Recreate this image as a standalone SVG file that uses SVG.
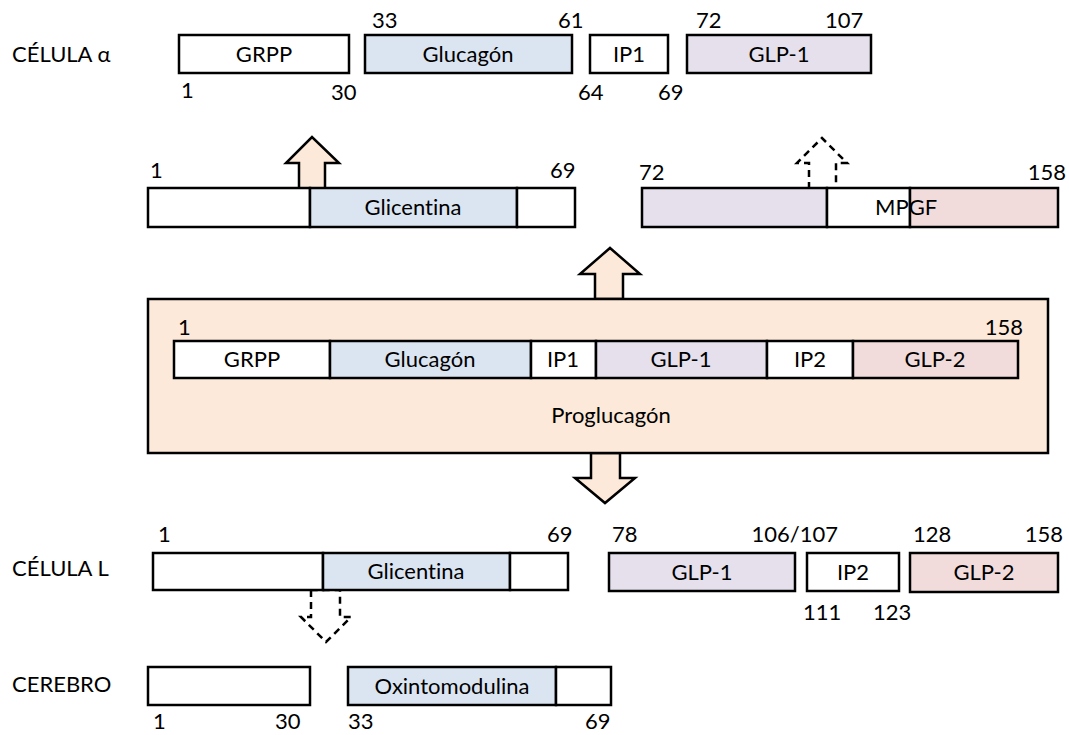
<svg xmlns="http://www.w3.org/2000/svg" width="1069" height="735" viewBox="0 0 1069 735">
<style>
text{font-family:Lato,"Open Sans","Noto Sans","DejaVu Sans",sans-serif;font-size:22px;fill:#000;font-variant-ligatures:none;font-feature-settings:"liga" 0}
.c{text-anchor:middle}
.e{text-anchor:end}
rect.s,polygon{stroke:#000;stroke-width:2.5}
.w{fill:#fff}
.b{fill:#DBE5F1}
.v{fill:#E5E0EC}
.p{fill:#F2DCDB}
.o{fill:#FDE9D9}
.d{fill:#fff;stroke-dasharray:7 5}
</style>
<rect width="1069" height="735" fill="#fff"/>

<g id="row-alpha">
<text x="12" y="62">CÉLULA α</text>
<g id="a-grpp"><rect class="s w" x="179" y="35" width="170" height="38"/><text class="c" x="264" y="62">GRPP</text></g>
<g id="a-glucagon"><rect class="s b" x="365" y="35" width="207" height="38"/><text class="c" x="468" y="62">Glucagón</text></g>
<g id="a-ip1"><rect class="s w" x="590" y="35" width="78" height="38"/><text class="c" x="629" y="62">IP1</text></g>
<g id="a-glp1"><rect class="s v" x="687" y="35" width="184" height="38"/><text class="c" x="779" y="62">GLP-1</text></g>
<text x="372" y="28">33</text><text x="558" y="28">61</text><text x="696" y="28">72</text><text x="825" y="28">107</text>
<text x="181" y="98">1</text><text x="331" y="100">30</text><text x="578" y="100">64</text><text x="658" y="100">69</text>
</g>

<g id="connectors">
<polygon class="o" points="299,189 299,163 286,163 312,137 339,163 325,163 325,189"/>
<polygon class="d" points="809,189 809,163 797,163 822,138 847,163 836,163 836,189"/>
<polygon class="o" points="595,299 595,274 580,274 610,248 640,274 623,274 623,299"/>
<polygon class="o" points="591,453 591,478 575,478 605,503 635,478 620,478 620,453"/>
<polygon class="d" points="311,590 311,617 301,617 326,642 351,617 340,617 340,590"/>
</g>

<g id="row-glicentina-alpha">
<rect class="s w" x="148" y="188" width="162" height="39"/>
<rect class="s b" x="310" y="188" width="207" height="39"/>
<rect class="s w" x="517" y="188" width="58" height="39"/>
<text class="c" x="413" y="215">Glicentina</text>
<text x="150" y="178">1</text><text x="550" y="178">69</text>
</g>

<g id="row-mpgf">
<rect class="s v" x="642" y="188" width="185" height="39"/>
<rect class="s w" x="827" y="188" width="83" height="39"/>
<rect class="s p" x="910" y="188" width="148" height="39"/>
<text x="875" y="215">MPGF</text>
<text x="639" y="180">72</text><text class="e" x="1066" y="180">158</text>
</g>

<g id="proglucagon">
<rect class="s o" x="148" y="299" width="900" height="154"/>
<rect class="s w" x="174" y="341" width="156" height="37"/>
<rect class="s b" x="330" y="341" width="201" height="37"/>
<rect class="s w" x="531" y="341" width="65" height="37"/>
<rect class="s v" x="596" y="341" width="171" height="37"/>
<rect class="s w" x="767" y="341" width="86" height="37"/>
<rect class="s p" x="853" y="341" width="165" height="37"/>
<text class="c" x="252" y="367">GRPP</text>
<text class="c" x="430" y="367">Glucagón</text>
<text class="c" x="563" y="367">IP1</text>
<text class="c" x="681" y="367">GLP-1</text>
<text class="c" x="810" y="367">IP2</text>
<text class="c" x="935" y="367">GLP-2</text>
<text x="178" y="335">1</text><text class="e" x="1023" y="335">158</text>
<text class="c" x="611" y="423">Proglucagón</text>
</g>

<g id="row-L">
<text x="12" y="576">CÉLULA L</text>
<rect class="s w" x="153" y="553" width="170" height="37"/>
<rect class="s b" x="323" y="553" width="187" height="37"/>
<rect class="s w" x="510" y="553" width="58" height="37"/>
<text class="c" x="416" y="579">Glicentina</text>
<text x="158" y="542">1</text><text x="547" y="542">69</text>
<g id="l-glp1"><rect class="s v" x="609" y="553" width="186" height="38"/><text class="c" x="702" y="580">GLP-1</text></g>
<g id="l-ip2"><rect class="s w" x="807" y="553" width="92" height="38"/><text class="c" x="853" y="580">IP2</text></g>
<g id="l-glp2"><rect class="s p" x="910" y="553" width="148" height="39"/><text class="c" x="984" y="580">GLP-2</text></g>
<text x="612" y="542">78</text><text class="e" x="838" y="542">106/107</text><text x="913" y="542">128</text><text class="e" x="1063" y="542">158</text>
<text x="803" y="620">111</text><text x="873" y="620">123</text>
</g>

<g id="row-cerebro">
<text x="12" y="692">CEREBRO</text>
<rect class="s w" x="148" y="667" width="162" height="38"/>
<rect class="s b" x="348" y="667" width="208" height="38"/>
<rect class="s w" x="556" y="667" width="55" height="38"/>
<text class="c" x="452" y="694">Oxintomodulina</text>
<text x="153" y="729">1</text><text x="275" y="729">30</text><text x="348" y="729">33</text><text x="585" y="729">69</text>
</g>
</svg>
